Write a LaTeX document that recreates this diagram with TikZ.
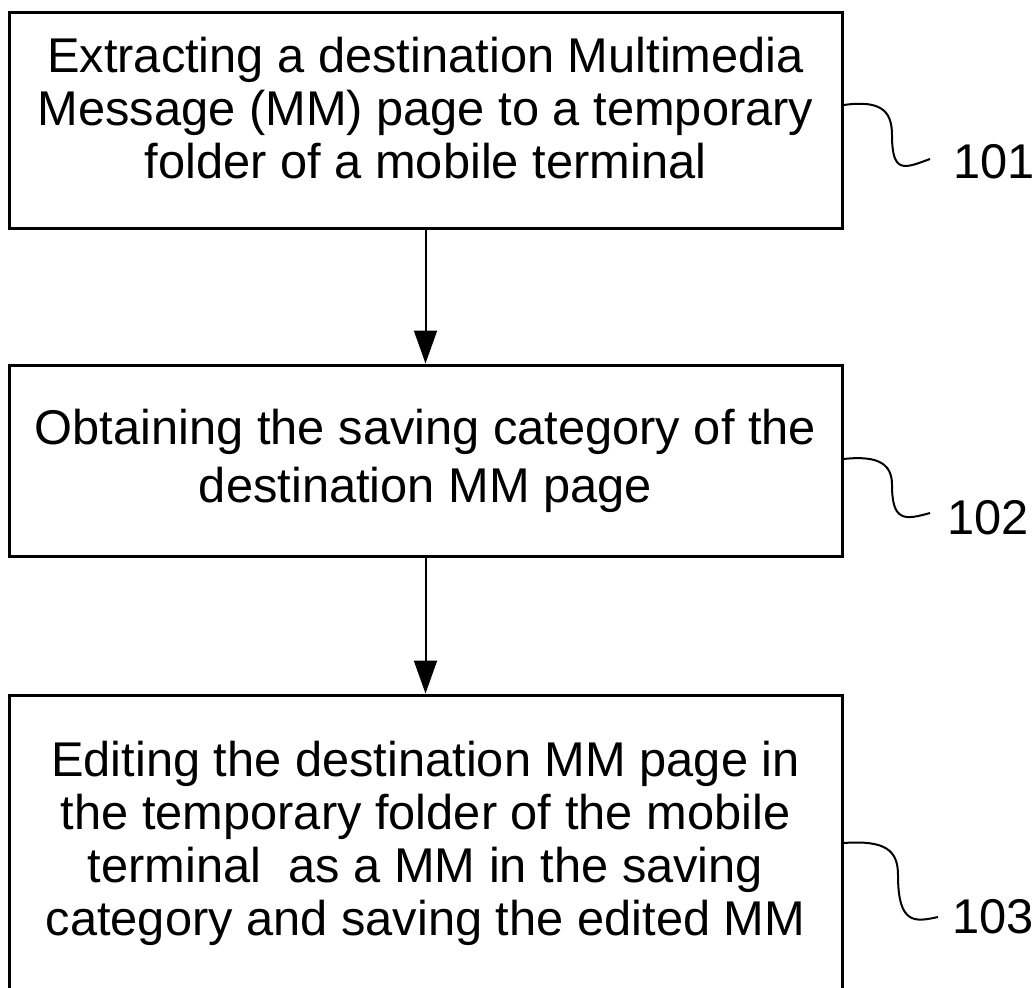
\documentclass[tikz,border=0pt]{standalone}
\usepackage{fontspec}
\setmainfont{Liberation Sans}
\usepackage{tikz}
\usetikzlibrary{arrows.meta}

\newcommand{\stagefont}{\fontsize{24.4}{26.5}\selectfont}
\newcommand{\lowpad}[1]{\rule[-#1]{0pt}{#1}}

\begin{document}
\begin{tikzpicture}[x=0.5pt, y=-0.5pt,
    stage/.style={draw, line width=1.5pt, minimum width=416.5pt, inner sep=0pt, align=center, font=\stagefont},
    flow/.style={line width=1pt, -{Triangle[length=16.5pt, width=11.5pt]}},
    lead/.style={line width=1pt},
    tag/.style={anchor=west, inner xsep=11pt, inner ysep=0pt, font=\stagefont}]
    \useasboundingbox (0,0) rectangle (1032,987);
    \clip (0,0) rectangle (1032,987);

    % steps
    \node[stage, minimum height=108pt] (b1) at (425.5,120) {Extracting a destination Multimedia\\Message (MM) page to a temporary\\folder of a mobile terminal\lowpad{12pt}};
    \node[stage, minimum height=95.5pt, font=\fontsize{24.4}{29}\selectfont] (b2) at (425.5,460.5) {Obtaining the saving category of the\\destination MM page\lowpad{3pt}};
    \node[stage, minimum height=150pt] (b3) at (425.5,845) {Editing the destination MM page in\\the temporary folder of the mobile\\terminal\ \ as a MM in the saving\\category and saving the edited MM\lowpad{6.5pt}};

    % arrows
    \draw[flow] (b1) -- (b2);
    \draw[flow] (b2) -- (b3);

    % reference numerals
    \draw[lead] (b1.east |- 0,105) .. controls (880,100) and (892,110) .. (892,135) .. controls (892,175) and (905,168) .. (930,159) node[tag, yshift=-1.5pt] (n101) {101};
    \draw[lead] (b2.east |- 0,459) .. controls (880,455) and (892,465) .. (892,485) .. controls (892,522) and (905,520) .. (930,513) node[tag, yshift=-2.5pt, inner xsep=8pt] (n102) {102};
    \draw[lead] (b3.east |- 0,843) .. controls (885,840) and (898,850) .. (898,875) .. controls (898,925) and (915,922) .. (938,917) node[tag, inner xsep=6.5pt] (n103) {103};
\end{tikzpicture}
\end{document}
